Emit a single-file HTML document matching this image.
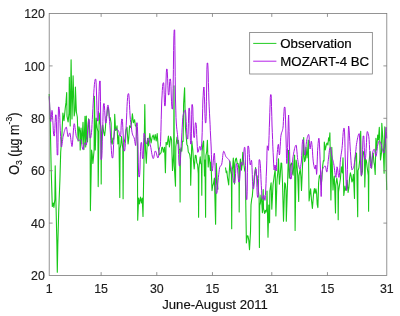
<!DOCTYPE html>
<html><head><meta charset="utf-8"><title>O3 June-August 2011</title>
<style>
html,body{margin:0;padding:0;background:#fff;}
svg{display:block;font-family:"Liberation Sans",sans-serif;}
</style></head><body>
<svg width="400" height="316" viewBox="0 0 400 316">
<rect width="400" height="316" fill="#fff"/>
<g fill="none" stroke-width="1" stroke-linejoin="round">
<polyline stroke="#18c818" stroke-width="1.1" points="49.2,94.0 50.3,125.0 51.2,170.0 52.3,206.5 53.3,203.0 53.9,207.5 54.9,199.1 55.2,165.7 55.9,200.0 56.9,245.0 57.3,272.2 57.8,245.0 58.7,211.4 59.2,198.0 59.9,180.0 60.7,152.0 61.7,139.0 62.9,113.1 64.0,120.7 65.2,108.6 66.0,102.4 66.7,92.5 67.0,116.1 68.1,122.0 69.0,113.1 69.3,77.3 70.2,126.0 71.1,59.8 72.0,119.0 73.1,75.7 74.2,116.0 75.1,110.2 75.4,87.1 76.4,112.0 77.3,117.0 78.1,141.0 79.0,126.8 79.9,131.4 80.2,150.0 81.0,128.0 81.9,144.0 83.0,122.2 83.9,149.6 85.0,116.2 85.7,147.0 86.3,116.0 86.6,136.8 87.5,142.0 88.6,118.8 89.3,126.3 90.1,137.2 90.4,210.6 91.6,150.0 92.2,154.3 92.9,163.4 94.1,150.0 94.4,96.3 95.3,150.0 96.2,118.0 97.1,127.6 97.9,131.7 98.2,186.6 99.2,113.0 100.1,122.6 100.9,127.2 101.2,183.9 101.5,136.8 102.8,125.0 103.7,132.1 104.6,135.7 105.3,129.7 106.1,116.7 106.9,115.7 107.6,107.6 108.4,107.6 109.4,118.2 110.2,117.7 111.1,123.1 111.4,142.5 112.2,144.1 112.9,138.0 113.7,139.2 114.4,133.3 114.7,114.4 115.6,130.4 116.3,129.9 117.0,125.8 117.9,144.0 118.9,135.0 119.8,197.5 120.1,148.7 120.8,144.8 121.5,136.5 122.8,148.9 123.1,198.7 123.4,150.1 124.2,142.1 125.1,138.0 126.0,129.6 127.0,127.3 128.1,144.0 128.8,137.7 129.6,125.8 130.8,127.3 131.6,122.1 132.4,113.7 133.4,122.8 134.6,119.7 135.4,126.0 136.2,126.0 137.4,144.9 137.7,220.3 138.6,198.0 139.5,204.0 140.5,197.0 141.5,203.0 142.2,198.0 143.0,216.5 143.9,165.0 144.8,104.6 145.5,150.0 146.3,163.2 147.0,148.0 147.6,138.2 148.6,146.0 149.8,133.6 151.1,143.0 152.2,137.0 153.2,135.1 154.2,140.0 155.2,134.6 156.2,141.0 157.2,133.6 158.2,147.3 159.4,155.0 160.3,153.4 161.1,152.8 161.8,147.6 162.6,147.3 163.4,152.2 164.6,147.3 165.4,172.7 166.1,142.2 167.2,144.6 168.4,136.0 169.4,147.0 170.6,136.5 171.6,140.0 172.5,170.4 173.7,153.5 174.0,85.8 174.3,166.0 175.5,186.1 175.8,146.8 177.0,137.0 177.7,143.7 178.4,140.3 179.1,148.8 179.8,150.0 180.1,202.0 180.4,153.6 181.1,147.8 181.8,151.2 182.4,141.3 183.1,141.5 183.6,104.0 184.6,87.8 185.4,127.0 186.1,135.0 186.9,144.4 187.7,146.0 188.3,152.0 189.0,153.0 189.7,154.4 190.4,159.5 190.7,185.3 191.8,141.0 192.8,150.0 193.5,161.0 194.2,168.9 195.3,155.2 196.1,155.7 196.8,162.8 197.6,164.6 198.3,173.7 198.6,217.2 198.9,168.8 200.2,156.7 200.8,163.7 201.5,164.4 201.8,195.2 202.1,151.8 202.9,143.5 203.6,141.0 204.5,176.0 205.0,160.0 205.6,217.2 205.9,155.7 206.7,151.5 207.4,140.3 208.2,167.0 208.9,155.2 209.7,160.2 210.4,170.4 211.0,162.0 212.0,190.6 212.7,185.7 213.4,184.0 214.4,178.0 215.6,224.2 216.3,163.2 217.2,183.0 218.0,189.5"/><polyline stroke="#18c818" stroke-width="1.1" points="225.5,167.5 226.2,172.7 226.8,171.1 227.5,177.5 228.7,185.0 229.8,161.1 230.6,170.6 231.4,174.6 231.7,228.7 232.0,172.2 232.7,166.8 233.3,158.1 234.5,184.0 234.8,163.3 235.6,159.1 236.4,158.1 237.2,163.4 238.1,163.6 238.9,168.9 239.2,212.0 239.5,169.7 240.4,159.1 241.4,170.3 242.1,164.8 242.8,152.4 244.0,165.0 244.7,170.5 245.3,172.0 245.8,205.0 246.4,242.9 247.2,235.7 248.0,236.0 248.8,240.4 249.5,249.7 250.5,232.0 251.0,205.0 251.7,199.0 252.3,196.3 253.0,187.3 253.6,184.6 254.3,176.0 255.6,167.5 256.3,175.6 257.1,175.7 257.8,185.0 259.1,197.5 259.4,247.5 259.7,205.5 260.4,203.1 261.0,195.0 261.7,201.5 262.4,212.8 263.2,189.5 263.5,208.7 264.7,213.5 265.4,210.3 266.0,212.1 266.7,209.0 267.0,191.0 268.0,237.2 268.8,205.0 269.6,222.8 269.9,190.8 271.1,182.8 271.8,209.1 273.0,185.0 274.1,176.7 275.2,169.0 275.9,216.0 277.0,180.0 277.8,172.5 278.5,158.7 279.4,184.3 280.2,175.9 281.0,163.0 281.7,163.3 282.5,182.8 283.5,221.3 284.7,182.8 285.4,184.1 286.0,190.5 286.3,221.3 287.5,185.0 288.5,150.4 289.3,178.2 290.5,165.0 291.6,163.0 292.4,172.5 293.1,175.2 293.9,163.0 294.6,155.0 295.1,230.4 296.1,160.0 296.9,164.8 297.7,175.2 298.7,201.5 299.0,175.6 300.2,169.1 300.9,176.5 301.5,190.4 302.5,166.0 303.7,137.5 304.0,155.5 304.6,161.6 305.3,160.0 306.0,147.3 307.0,158.0 307.6,151.5 308.3,140.0 309.1,201.0 309.9,193.1 310.6,188.9 311.5,200.2 312.4,208.4 313.6,193.4 314.4,188.6 315.1,193.3 315.9,188.9 316.6,192.9 317.2,204.5 317.9,207.6 318.6,182.8 319.3,176.0 320.0,175.0 321.2,185.0 321.9,178.8 322.7,165.6 323.4,160.6 324.0,160.9 324.3,142.0 325.3,150.0 326.4,144.3 327.1,143.0 327.9,145.0 328.6,137.9 329.2,140.8 329.9,132.9 330.9,200.0 331.8,147.3 333.0,190.0 333.6,180.8 334.3,176.0 335.5,212.9 335.8,185.0 336.8,178.0 337.9,186.3 338.2,219.7 338.5,191.9 339.5,185.0 340.4,179.0 341.3,166.8 342.3,173.0 343.0,157.7 343.8,195.4 345.0,186.0 345.8,190.4 346.5,189.6 347.2,180.0 348.1,192.4 348.9,187.7 349.6,177.8 350.4,172.9 351.1,175.6 351.9,182.0 352.6,180.6 353.4,174.4 354.5,198.4 354.8,162.2 355.6,155.9 356.5,153.1 357.7,216.7 358.0,170.7 358.9,167.8 359.8,159.2 360.7,131.3 361.3,175.9 362.5,171.0 362.8,151.6 363.6,151.7 364.5,158.7 364.8,187.0 365.6,159.2 366.4,160.8 367.1,166.8 368.3,175.7 368.6,211.3 368.9,163.5 370.1,151.6 370.9,162.3 371.6,168.3 372.4,156.9 373.2,153.1 373.9,162.1 374.5,165.2 375.2,174.4 375.9,138.2 376.6,150.0 377.7,135.1 378.4,140.0 379.3,127.2 380.5,160.0 381.5,152.6 381.8,123.2 383.0,140.0 384.1,173.2 384.8,126.7 385.8,150.0 386.7,190.0"/>
<polyline stroke="#a818e0" stroke-width="1.0" points="49.2,96.3 49.5,101.1 49.7,106.6 50.0,112.0 50.3,116.8 50.5,120.2 50.8,121.5 51.0,120.3 51.3,117.6 51.5,114.3 51.8,111.6 52.0,110.4 52.3,111.8 52.5,115.5 52.8,120.4 53.1,125.9 53.3,130.8 53.6,134.5 53.9,135.9 54.1,135.9 54.4,135.9 54.6,133.7 54.9,128.5 55.1,122.3 55.4,117.1 55.6,114.9 55.9,114.9 56.1,114.9 56.4,121.2 56.7,134.9 57.0,148.7 57.2,155.0 57.5,155.0 57.8,155.0 58.0,142.6 58.2,119.4 58.5,107.0 58.7,107.0 59.0,107.0 59.2,108.4 59.5,112.0 59.8,117.4 60.0,123.7 60.3,130.3 60.6,136.6 60.9,142.0 61.1,145.6 61.4,147.0 61.7,146.5 61.9,145.3 62.2,143.5 62.4,141.5 62.7,139.4 62.9,137.6 63.2,136.2 63.5,135.0 63.8,133.9 64.0,132.7 64.3,131.6 64.6,130.6 64.9,129.6 65.2,128.8 65.5,128.1 65.7,127.6 66.0,127.2 66.3,127.1 66.6,127.8 66.9,129.6 67.2,131.9 67.5,134.2 67.8,136.0 68.1,136.7 68.4,136.4 68.7,135.7 68.9,134.8 69.2,133.9 69.5,133.2 69.8,132.9 70.1,133.5 70.3,135.0 70.6,137.2 70.9,139.7 71.2,142.2 71.5,144.4 71.7,145.9 72.0,146.5 72.3,145.5 72.5,142.9 72.8,139.3 73.1,135.1 73.4,130.9 73.7,127.3 73.9,124.7 74.2,123.7 74.5,124.2 74.8,125.5 75.0,127.3 75.3,129.5 75.6,131.8 75.9,133.9 76.1,135.6 76.4,136.7 76.7,137.4 77.0,138.1 77.3,138.8 77.6,139.3 77.8,139.8 78.1,140.2 78.4,140.4 78.7,140.5 79.0,140.5 79.3,140.3 79.6,140.2 79.8,140.0 80.1,139.9 80.4,139.7 80.7,139.7 81.0,140.1 81.3,141.2 81.6,142.8 81.8,144.6 82.1,146.5 82.4,148.1 82.7,149.2 83.0,149.6 83.3,149.1 83.6,147.8 83.9,146.1 84.2,144.5 84.5,143.2 84.8,142.7 85.1,142.9 85.4,143.5 85.7,144.2 86.0,144.8 86.3,145.0 86.6,144.1 86.8,141.8 87.1,138.4 87.4,134.4 87.7,130.1 87.9,126.1 88.2,122.7 88.5,120.4 88.8,119.5 89.0,119.5 89.2,119.5 89.5,124.3 89.8,133.2 90.0,138.0 90.3,138.0 90.5,138.0 90.8,137.3 91.1,135.5 91.5,132.6 91.8,128.8 92.0,124.4 92.3,119.4 92.6,114.1 92.9,108.6 93.2,103.1 93.5,97.8 93.8,92.8 94.1,88.4 94.4,84.6 94.8,81.7 95.0,79.9 95.3,79.2 95.6,79.2 95.8,79.2 96.1,82.3 96.4,90.0 96.7,100.1 97.0,110.2 97.3,117.9 97.5,121.0 97.8,121.0 98.0,121.0 98.3,118.0 98.6,110.6 98.8,101.0 99.1,91.4 99.4,84.0 99.7,81.0 99.9,81.0 100.2,81.0 100.5,101.4 100.8,139.2 101.0,159.6 101.3,159.6 101.5,159.6 101.8,157.2 102.1,150.8 102.3,141.9 102.6,131.6 102.9,121.3 103.1,112.3 103.4,106.0 103.7,103.6 103.9,103.6 104.2,103.6 104.4,105.6 104.7,110.4 105.0,116.2 105.3,121.0 105.5,123.0 105.8,123.0 106.0,123.0 106.3,121.7 106.6,118.4 106.8,114.2 107.1,109.9 107.4,106.6 107.7,105.3 107.9,105.3 108.2,105.3 108.4,106.3 108.7,109.0 109.0,112.8 109.3,117.2 109.6,121.7 109.9,125.8 110.2,130.0 110.5,135.0 110.8,140.3 111.1,145.5 111.4,150.3 111.7,154.3 112.0,156.9 112.2,157.9 112.5,157.9 112.8,157.9 113.0,155.9 113.3,151.0 113.6,144.5 113.9,138.0 114.1,132.8 114.4,130.4 114.7,129.9 115.0,129.5 115.3,129.2 115.6,129.0 115.9,128.9 116.2,128.9 116.5,129.0 116.8,129.2 117.1,129.3 117.3,129.6 117.6,129.8 117.9,130.1 118.2,130.4 118.5,130.9 118.8,131.7 119.1,132.7 119.3,133.8 119.6,134.8 119.9,135.7 120.2,136.3 120.5,136.5 120.8,134.7 121.0,130.3 121.2,125.2 121.5,120.8 121.8,119.0 122.0,119.0 122.2,119.0 122.5,121.4 122.8,127.3 123.2,135.0 123.5,142.7 123.8,148.6 124.0,151.0 124.3,151.0 124.5,151.0 124.8,150.0 125.1,147.3 125.4,143.3 125.7,138.1 125.9,132.1 126.2,125.6 126.5,119.1 126.8,112.6 127.0,106.6 127.3,101.4 127.6,97.4 127.9,94.7 128.2,93.7 128.4,93.7 128.7,93.7 128.9,95.2 129.2,99.2 129.5,104.7 129.8,110.5 130.1,115.9 130.4,119.7 130.7,122.3 131.0,124.8 131.3,127.0 131.6,129.1 131.8,130.9 132.1,132.5 132.4,133.9 132.7,134.9 133.0,135.7 133.3,136.2 133.6,136.7 133.9,137.3 134.2,138.0 134.5,139.4 134.8,141.3 135.1,143.3 135.4,145.0 135.7,145.6 135.9,142.0 136.2,134.2 136.4,126.4 136.7,122.8 136.9,122.8 137.2,122.8 137.4,126.8 137.8,136.8 138.1,149.8 138.3,162.9 138.6,172.9 138.9,176.9 139.2,176.9 139.4,176.9 139.7,174.4 140.0,168.0 140.2,159.7 140.5,151.4 140.8,145.0 141.1,142.5 141.3,142.5 141.6,142.5 141.8,145.0 142.1,150.6 142.3,156.1 142.6,158.6 142.8,158.6 143.1,158.6 143.3,154.7 143.5,146.0 143.8,137.3 144.0,133.4 144.3,133.9 144.6,135.1 144.9,136.8 145.2,138.7 145.4,140.6 145.7,142.3 146.0,143.5 146.3,144.0 146.6,143.7 146.9,142.8 147.2,141.6 147.4,140.4 147.7,139.2 148.0,138.3 148.3,138.0 148.6,138.2 148.9,138.8 149.1,139.7 149.4,140.9 149.7,142.2 149.9,143.5 150.2,144.8 150.5,146.0 150.8,147.4 151.1,149.1 151.4,150.9 151.7,152.8 152.0,154.6 152.3,156.1 152.6,157.4 152.9,158.3 153.2,158.6 153.5,158.3 153.8,157.4 154.0,156.2 154.3,154.8 154.6,153.4 154.8,152.2 155.1,151.3 155.4,151.0 155.7,151.2 156.0,151.9 156.3,152.8 156.6,153.9 156.8,155.0 157.1,156.1 157.4,157.0 157.7,157.7 158.0,157.9 158.3,157.3 158.5,155.6 158.8,153.4 159.1,151.0 159.3,149.0 159.6,147.6 159.8,147.1 160.1,146.6 160.3,146.0 160.6,141.3 160.9,131.5 161.2,119.5 161.5,108.0 161.8,100.0 162.1,95.1 162.3,90.5 162.6,86.5 162.9,83.8 163.2,82.8 163.4,82.8 163.7,82.8 163.9,86.4 164.2,94.3 164.4,102.2 164.7,105.8 164.9,105.8 165.2,105.8 165.4,102.0 165.7,92.9 166.0,82.0 166.3,72.9 166.6,69.1 166.8,69.1 167.1,69.1 167.3,71.8 167.6,78.2 167.9,85.8 168.2,92.2 168.4,94.9 168.7,94.9 168.9,94.9 169.2,92.4 169.4,87.0 169.7,81.5 169.9,79.0 170.2,79.0 170.4,79.0 170.7,81.2 171.0,86.8 171.2,94.0 171.5,101.2 171.8,106.8 172.1,109.0 172.3,109.0 172.6,109.0 172.8,103.1 173.1,88.5 173.4,69.5 173.6,50.4 173.9,35.8 174.2,29.9 174.4,29.9 174.7,29.9 174.9,45.4 175.2,76.5 175.5,100.0 175.8,110.1 176.0,117.7 176.3,123.0 176.6,126.9 176.9,129.8 177.2,132.2 177.5,134.7 177.8,138.0 178.1,142.4 178.3,148.2 178.6,154.4 178.8,160.1 179.1,164.2 179.3,165.8 179.6,165.8 179.8,165.8 180.1,164.4 180.4,160.6 180.7,155.3 181.0,149.2 181.3,143.2 181.6,138.0 181.9,132.8 182.2,127.2 182.5,121.9 182.8,117.6 183.1,115.2 183.4,114.1 183.7,113.1 183.9,112.3 184.2,111.6 184.5,111.0 184.8,110.6 185.0,110.3 185.3,110.2 185.6,111.8 185.9,115.9 186.2,121.5 186.5,127.7 186.8,133.3 187.1,137.4 187.3,139.0 187.6,139.0 187.8,139.0 188.1,134.2 188.4,123.6 188.7,113.0 188.9,108.2 189.2,108.2 189.4,108.2 189.7,111.9 189.9,120.8 190.2,131.4 190.4,140.3 190.7,144.0 190.9,144.0 191.2,144.0 191.4,133.8 191.7,114.8 191.9,104.6 192.2,104.6 192.4,104.6 192.8,108.0 193.0,116.2 193.3,125.9 193.6,134.1 193.9,137.5 194.2,137.5 194.4,137.5 194.7,135.2 194.9,130.2 195.2,125.1 195.4,122.8 195.7,122.8 195.9,122.8 196.2,124.4 196.5,128.7 196.7,134.5 197.0,140.7 197.3,146.5 197.5,150.8 197.8,152.4 198.1,152.1 198.4,151.2 198.7,150.0 199.0,148.7 199.3,147.5 199.6,146.6 199.9,146.3 200.2,146.9 200.4,148.3 200.7,149.7 200.9,150.3 201.2,149.5 201.4,147.2 201.7,143.9 201.9,140.0 202.2,132.4 202.4,120.4 202.7,108.2 202.9,100.0 203.2,95.2 203.4,91.0 203.7,88.1 203.9,87.0 204.2,89.7 204.4,96.3 204.7,104.9 204.9,113.5 205.2,120.1 205.4,122.8 205.7,122.8 205.9,122.8 206.2,116.6 206.4,101.8 206.7,84.0 206.9,69.2 207.2,63.0 207.4,63.0 207.7,63.0 207.9,65.9 208.2,73.0 208.4,82.5 208.7,92.2 208.9,100.0 209.2,106.9 209.5,113.2 209.8,119.1 210.1,124.8 210.3,130.4 210.6,136.0 210.9,141.9 211.2,148.0 211.4,154.7 211.7,162.3 211.9,168.5 212.2,171.1 212.5,170.3 212.7,168.3 213.0,165.4 213.2,162.1 213.5,158.9 213.8,156.0 214.0,154.0 214.3,153.2 214.6,155.3 214.8,160.4 215.1,166.8 215.3,172.8 215.5,178.8 215.8,185.6 216.0,191.2 216.2,193.5 216.5,193.5 216.8,193.5 217.0,192.6 217.3,190.3 217.6,187.1 217.8,183.5 218.1,180.1 218.4,177.3 218.7,174.7 219.0,172.1 219.3,169.6 219.6,167.7 219.9,166.7 220.2,166.3 220.5,166.0 220.8,165.8 221.1,165.6 221.4,165.2 221.7,164.2 222.0,162.5 222.3,160.2 222.6,157.7 222.8,155.3 223.1,153.2 223.4,151.8 223.7,151.2 224.0,151.4 224.3,151.9 224.6,152.7 224.8,153.6 225.1,154.5 225.4,155.4 225.7,156.2 226.0,156.8 226.3,157.2 226.6,157.5 226.9,157.8 227.2,158.1 227.5,158.3 227.8,158.5 228.1,158.8 228.4,159.1 228.7,159.5 229.0,159.9 229.3,160.5 229.6,161.3 229.9,162.2 230.2,163.3 230.4,164.5 230.7,165.7 231.0,167.0 231.3,168.2 231.6,169.6 231.9,171.3 232.2,173.2 232.5,175.2 232.8,177.1 233.1,179.0 233.4,180.6 233.7,181.9 234.0,182.7 234.2,183.0 234.5,183.0 234.8,183.0 235.0,181.6 235.3,178.0 235.6,173.3 235.8,168.7 236.1,165.1 236.3,163.7 236.6,163.7 236.8,163.7 237.1,164.7 237.4,167.3 237.7,170.9 238.0,174.8 238.3,178.4 238.6,181.0 238.8,182.0 239.1,182.0 239.3,182.0 239.6,180.5 239.9,176.9 240.2,172.1 240.5,167.3 240.8,163.7 241.1,162.2 241.4,162.4 241.6,163.0 241.9,163.7 242.2,164.4 242.4,165.0 242.7,165.2 243.0,163.9 243.3,160.6 243.6,156.3 243.9,152.0 244.2,148.7 244.4,147.4 244.7,147.4 244.9,147.4 245.2,152.8 245.5,165.8 245.8,181.2 246.1,194.2 246.4,199.6 246.7,199.6 246.9,199.6 247.2,191.2 247.4,172.8 247.7,154.5 247.9,146.1 248.2,146.1 248.4,146.1 248.7,147.1 249.0,149.8 249.2,153.5 249.5,157.6 249.8,161.3 250.0,164.0 250.3,165.0 250.6,164.3 250.9,162.7 251.2,161.0 251.5,160.3 251.8,162.4 252.0,167.7 252.3,174.5 252.5,181.3 252.8,186.6 253.1,188.7 253.3,188.7 253.6,188.7 253.8,187.6 254.1,184.8 254.4,180.9 254.7,176.8 255.0,172.9 255.3,170.1 255.6,169.0 255.8,169.0 256.1,169.0 256.4,171.9 256.7,179.0 256.9,187.3 257.2,194.4 257.6,197.3 257.8,197.3 258.1,197.3 258.3,191.4 258.6,178.5 258.9,165.6 259.1,159.7 259.4,159.7 259.6,159.7 259.9,160.8 260.2,163.8 260.5,168.3 260.8,173.7 261.0,179.6 261.3,185.4 261.6,190.8 261.8,195.3 262.1,198.3 262.4,199.4 262.7,199.0 263.0,198.0 263.3,196.7 263.6,195.7 263.9,195.3 264.1,196.1 264.4,197.9 264.6,199.6 264.9,200.4 265.2,199.0 265.4,195.4 265.7,190.0 266.0,183.6 266.2,176.7 266.5,170.0 266.8,160.9 267.0,150.7 267.3,145.8 267.6,146.5 267.8,148.1 268.1,149.7 268.3,150.4 268.6,148.3 268.8,142.8 269.1,135.4 269.3,127.3 269.6,120.0 269.8,112.7 270.1,104.4 270.3,97.5 270.6,94.7 270.8,94.7 271.1,94.7 271.3,98.2 271.5,106.6 271.8,116.6 272.0,125.0 272.3,132.5 272.6,139.5 272.8,146.2 273.1,152.3 273.4,158.0 273.6,163.1 273.9,167.8 274.1,169.9 274.4,168.6 274.7,166.3 275.0,165.0 275.3,165.9 275.6,168.0 275.9,170.1 276.2,171.0 276.5,167.8 276.7,161.3 277.0,156.0 277.3,152.6 277.6,149.5 277.8,146.8 278.1,145.0 278.4,144.3 278.6,146.0 278.9,149.7 279.1,153.3 279.4,155.0 279.7,153.7 279.9,150.5 280.2,146.2 280.5,141.7 280.7,137.7 281.0,135.2 281.3,133.9 281.5,132.9 281.8,132.2 282.1,131.5 282.4,130.7 282.6,129.7 282.9,128.4 283.2,125.8 283.4,121.5 283.7,116.6 284.0,111.9 284.2,108.4 284.5,107.0 284.8,107.1 285.0,107.5 285.2,111.0 285.5,119.1 285.8,128.9 286.0,138.0 286.3,148.3 286.5,158.7 286.8,163.5 287.1,161.1 287.3,155.1 287.6,147.5 287.8,140.0 288.1,130.3 288.3,119.9 288.6,115.0 288.8,120.2 289.1,131.5 289.3,142.0 289.6,151.3 289.8,161.1 290.1,170.0 290.3,176.5 290.6,179.0 290.8,179.0 291.1,179.0 291.3,178.0 291.6,175.2 291.9,171.4 292.2,167.0 292.5,162.7 292.8,159.0 293.1,156.5 293.4,154.8 293.7,153.1 294.0,151.5 294.3,150.0 294.6,148.6 294.9,147.4 295.2,146.5 295.5,145.7 295.8,145.3 296.1,145.1 296.4,145.9 296.6,148.1 296.9,151.1 297.2,154.3 297.4,157.3 297.7,159.5 298.0,161.2 298.2,162.9 298.5,164.5 298.8,165.9 299.1,167.2 299.3,168.2 299.6,168.9 299.9,169.1 300.2,168.8 300.4,167.8 300.7,166.5 300.9,164.8 301.2,163.0 301.5,160.0 301.7,155.3 302.0,150.0 302.2,144.9 302.5,141.2 302.8,139.7 303.0,139.7 303.2,139.7 303.5,141.3 303.8,145.1 304.0,149.5 304.3,153.3 304.6,154.9 304.8,154.9 305.1,154.9 305.3,153.9 305.6,151.5 305.9,148.2 306.2,144.7 306.5,141.7 306.8,139.7 307.1,138.6 307.3,137.5 307.6,136.5 307.9,135.6 308.2,135.0 308.4,134.6 308.7,134.4 309.0,135.9 309.3,139.5 309.5,143.8 309.8,147.4 310.1,148.9 310.4,147.7 310.7,145.1 311.0,142.5 311.3,141.3 311.6,142.1 311.9,144.3 312.2,147.5 312.5,151.2 312.7,155.2 313.0,158.9 313.3,161.9 313.6,164.0 313.9,165.5 314.2,166.9 314.5,168.0 314.8,168.8 315.1,169.1 315.4,168.0 315.6,166.1 315.9,165.0 316.1,167.4 316.4,172.0 316.6,174.4 316.9,171.3 317.1,164.1 317.4,156.1 317.6,150.4 317.9,146.8 318.1,143.5 318.4,140.8 318.6,138.9 318.9,138.2 319.2,140.0 319.5,144.9 319.8,151.8 320.1,159.9 320.4,168.0 320.7,178.5 320.9,190.7 321.2,196.5 321.4,191.2 321.6,181.0 321.8,174.4 322.1,171.9 322.4,170.2 322.7,169.0 323.0,168.3 323.3,167.8 323.6,167.4 323.9,167.0 324.1,166.6 324.4,166.4 324.7,166.2 325.0,166.0 325.3,166.0 325.6,166.6 325.9,168.1 326.2,170.0 326.5,171.5 326.8,172.1 327.1,171.4 327.3,169.7 327.6,167.2 327.9,164.4 328.1,161.6 328.4,159.2 328.7,157.0 328.9,154.6 329.2,152.3 329.4,150.4 329.7,149.0 329.9,148.2 330.1,147.6 330.3,147.3 330.6,148.0 330.9,149.7 331.2,152.0 331.5,154.4 331.8,156.2 332.1,157.4 332.3,158.4 332.6,159.4 332.9,160.3 333.2,161.3 333.4,162.4 333.7,163.7 334.0,165.6 334.3,167.9 334.6,170.3 334.9,172.6 335.2,174.4 335.5,175.7 335.7,176.9 336.0,177.4 336.2,175.7 336.5,172.1 336.8,168.5 337.0,166.8 337.3,167.4 337.6,168.9 337.9,171.0 338.1,173.2 338.4,175.3 338.7,176.8 339.0,177.4 339.3,175.9 339.6,172.3 339.9,167.5 340.2,162.8 340.5,159.2 340.8,156.8 341.1,154.8 341.4,152.9 341.7,150.9 342.0,148.6 342.3,145.3 342.6,141.1 342.9,136.5 343.2,132.4 343.5,129.5 343.8,128.3 344.0,128.3 344.2,128.3 344.5,131.1 344.8,138.1 345.0,147.4 345.2,157.0 345.5,165.0 345.8,173.0 346.1,181.3 346.3,187.8 346.6,190.5 346.9,187.2 347.1,179.3 347.4,169.3 347.6,160.0 347.9,150.2 348.1,139.0 348.4,129.8 348.6,126.0 348.9,127.4 349.2,130.9 349.5,135.9 349.8,141.5 350.1,147.0 350.4,151.6 350.7,156.0 351.0,160.8 351.3,165.3 351.6,168.5 351.9,169.8 352.2,169.7 352.4,169.5 352.7,169.1 352.9,168.7 353.2,168.1 353.4,167.5 353.7,166.8 354.0,165.7 354.3,164.0 354.6,161.8 354.8,159.4 355.1,156.7 355.4,154.1 355.7,151.6 356.0,149.1 356.2,146.4 356.5,144.3 356.8,142.5 357.1,140.8 357.4,139.1 357.7,137.6 358.0,136.3 358.3,135.2 358.6,134.3 358.9,133.8 359.2,133.6 359.5,135.9 359.8,141.8 360.1,150.0 360.4,158.8 360.7,167.0 361.0,172.9 361.2,175.2 361.5,175.2 361.8,175.2 362.1,171.1 362.4,161.4 362.6,149.8 362.9,140.1 363.2,136.0 363.5,136.0 363.8,136.0 364.0,139.6 364.3,147.7 364.6,155.7 364.9,159.3 365.1,159.3 365.4,159.3 365.6,157.8 365.9,153.8 366.2,148.4 366.5,142.4 366.7,137.0 367.0,133.0 367.3,131.5 367.6,131.8 367.9,132.5 368.2,133.7 368.5,135.1 368.8,136.7 369.1,139.6 369.4,144.5 369.7,150.6 370.0,156.9 370.3,162.4 370.6,166.5 370.9,168.0 371.1,168.0 371.4,168.0 371.6,166.5 371.9,162.9 372.2,158.4 372.4,154.4 372.7,152.2 373.0,151.2 373.3,150.4 373.6,149.8 373.9,149.3 374.2,149.2 374.5,149.6 374.7,150.6 375.0,152.0 375.2,153.5 375.5,154.9 375.7,155.9 376.0,156.3 376.3,155.6 376.6,153.8 376.9,151.5 377.1,148.9 377.4,146.6 377.7,145.0 378.0,143.9 378.3,142.8 378.6,141.9 378.9,141.2 379.2,141.0 379.5,141.1 379.7,141.3 380.0,141.6 380.3,142.0 380.5,142.5 380.8,143.0 381.1,143.8 381.4,144.9 381.7,146.2 381.9,147.6 382.2,149.0 382.5,150.3 382.8,151.2 383.1,151.9 383.3,152.5 383.6,153.0 383.8,153.2 384.1,152.5 384.4,150.6 384.7,147.8 385.0,144.5 385.3,141.0 385.6,136.1 385.8,130.1 386.1,127.2 386.4,131.4 386.7,138.4"/>
</g>
<rect x="49.2" y="13.5" width="337.6" height="262.0" fill="none" stroke="#7a7a7a" stroke-width="0.8"/>
<path d="M101.14 275.5v-3.4M101.14 13.5v3.4M156.79 275.5v-3.4M156.79 13.5v3.4M212.44 275.5v-3.4M212.44 13.5v3.4M271.79 275.5v-3.4M271.79 13.5v3.4M327.44 275.5v-3.4M327.44 13.5v3.4M49.2 223.10h3.4M386.8 223.10h-3.4M49.2 170.70h3.4M386.8 170.70h-3.4M49.2 118.30h3.4M386.8 118.30h-3.4M49.2 65.90h3.4M386.8 65.90h-3.4" stroke="#7a7a7a" stroke-width="0.8" fill="none"/>
<g font-size="12.4px" fill="#1c1c1c" stroke="#1c1c1c" stroke-width="0.15"><text x="49.2" y="292.6" text-anchor="middle">1</text><text x="101.1" y="292.6" text-anchor="middle">15</text><text x="156.8" y="292.6" text-anchor="middle">30</text><text x="212.4" y="292.6" text-anchor="middle">15</text><text x="271.8" y="292.6" text-anchor="middle">31</text><text x="327.4" y="292.6" text-anchor="middle">15</text><text x="386.8" y="292.6" text-anchor="middle">31</text><text x="44.9" y="280.1" text-anchor="end">20</text><text x="44.9" y="227.7" text-anchor="end">40</text><text x="44.9" y="175.3" text-anchor="end">60</text><text x="44.9" y="122.9" text-anchor="end">80</text><text x="44.9" y="70.5" text-anchor="end">100</text><text x="44.9" y="18.1" text-anchor="end">120</text></g>
<text x="215.1" y="308.7" font-size="13.15px" text-anchor="middle" fill="#111" stroke="#111" stroke-width="0.15">June-August 2011</text>
<text transform="translate(18.9,143.7) rotate(-90) scale(0.965,1.1)" font-size="13px" text-anchor="middle" fill="#111" stroke="#111" stroke-width="0.15">O<tspan font-size="9px" dy="3">3</tspan><tspan dy="-3"> (µg m</tspan><tspan font-size="9px" dy="-6">-3</tspan><tspan dy="6">)</tspan></text>
<rect x="249.7" y="32.5" width="122.6" height="41.5" fill="#fff" stroke="#6a6a6a" stroke-width="0.7"/>
<path d="M253.2 43.4H276.4" stroke="#22cc22" stroke-width="1"/>
<path d="M253.2 61.2H276.4" stroke="#b520e8" stroke-width="1"/>
<g font-size="13.25px" fill="#000" stroke="#000" stroke-width="0.2">
<text x="280.3" y="48.3">Observation</text>
<text x="280.3" y="66.1">MOZART-4 BC</text>
</g>
</svg>
</body></html>
